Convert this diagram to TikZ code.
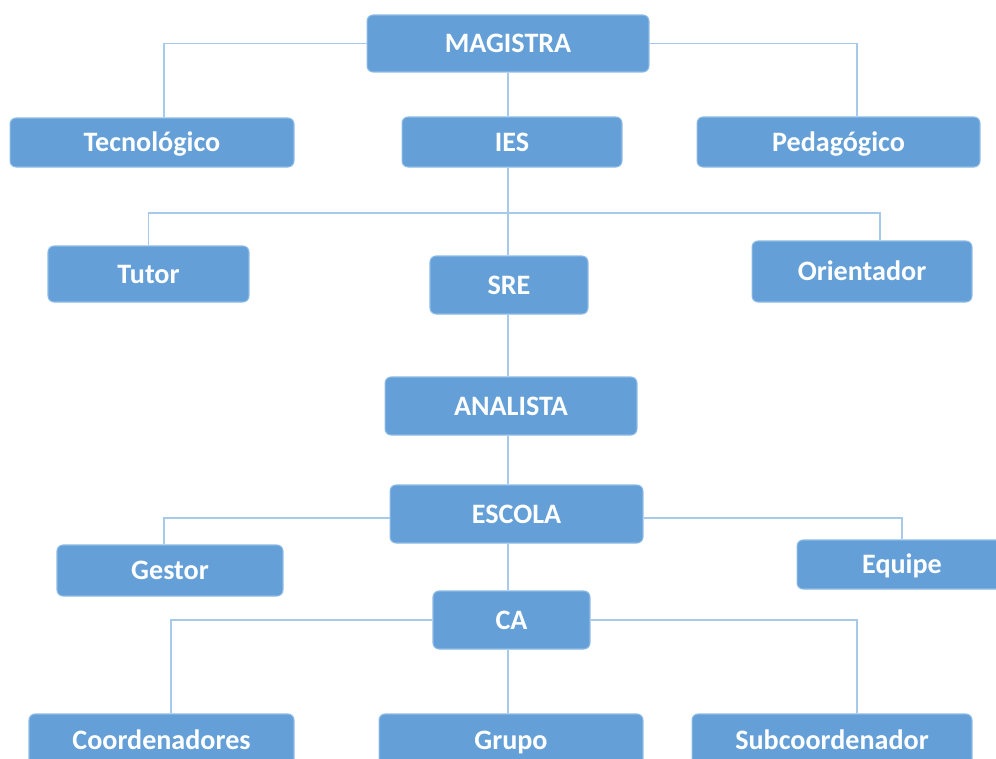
\documentclass[tikz,border=0pt]{standalone}
\usepackage{fontspec}
\setmainfont{Carlito}
\definecolor{boxblue}{HTML}{64A0D7}
\definecolor{boxedge}{HTML}{8DBBE6}
\definecolor{linkblue}{HTML}{A7C9EA}

\begin{document}
\begin{tikzpicture}[x=0.02cm,y=-0.02cm,
        every node/.style={rectangle,rounded corners=0.12cm,fill=boxblue,draw=boxedge,
            line width=0.6pt,text=white,inner sep=0pt,text height=10.3pt,text depth=0pt,
            font=\fontsize{16}{19}\selectfont\bfseries},
        link/.style={draw=linkblue,line width=0.9pt}]
    \useasboundingbox (0,0) rectangle (996,758);
    \clip (0,0) rectangle (996,758);
    % boxes
    \node[minimum width=5.64cm,minimum height=1.14cm] (mag) at (508,43.5) {MAGISTRA};
    \node[minimum width=5.68cm,minimum height=0.98cm] (tec) at (152,142.5) {Tecnológico};
    \node[minimum width=4.4cm,minimum height=1cm] (ies) at (512,142) {IES};
    \node[minimum width=5.66cm,minimum height=1cm] (ped) at (838.5,142) {Pedagógico};
    \node[minimum width=4.02cm,minimum height=1.12cm] (tut) at (148.5,274) {Tutor};
    \node[minimum width=3.16cm,minimum height=1.16cm] (sre) at (509,285) {SRE};
    \node[minimum width=4.4cm,minimum height=1.22cm] (ori) at (862,271.5) {Orientador};
    \node[minimum width=5.04cm,minimum height=1.16cm] (ana) at (511,406) {ANALISTA};
    \node[minimum width=5.06cm,minimum height=1.16cm] (esc) at (516.5,514) {ESCOLA};
    \node[minimum width=4.52cm,minimum height=1.02cm] (ges) at (170,570.5) {Gestor};
    \node[minimum width=4.2cm,minimum height=0.98cm] (equ) at (902,564.5) {Equipe};
    \node[minimum width=3.14cm,minimum height=1.16cm] (ca) at (511.5,620) {CA};
    \node[minimum width=5.3cm,minimum height=1.04cm] (coo) at (161.5,740) {Coordenadores};
    \node[minimum width=5.28cm,minimum height=1.04cm] (grp) at (511,740) {Grupo};
    \node[minimum width=5.6cm,minimum height=1.04cm] (sub) at (832,740) {Subcoordenador};
    % connectors
    \coordinate (spine) at (508,0);
    \coordinate (bus) at (508,213);
    \coordinate (oriTop) at ([xshift=0.36cm]ori.north);
    \draw[link] (mag.west) -| ([xshift=0.24cm]tec.north);
    \draw[link] (mag.east) -| ([xshift=0.37cm]ped.north);
    \draw[link] (mag.south -| spine) -- (ies.north -| spine);
    \draw[link] (ies.south -| spine) -- (sre.north -| spine);
    \draw[link] (tut.north) -- (tut.north |- bus) -- (oriTop |- bus) -- (oriTop);
    \draw[link] (sre.south -| spine) -- (ana.north -| spine);
    \draw[link] (ana.south -| spine) -- (esc.north -| spine);
    \draw[link] (esc.south -| spine) -- (ca.north -| spine);
    \draw[link] (ca.south -| spine) -- (grp.north -| spine);
    \draw[link] ([yshift=-0.08cm]esc.west) -| ([xshift=-0.12cm]ges.north);
    \draw[link] ([yshift=-0.08cm]esc.east) -| (equ.north);
    \draw[link] (ca.west) -| ([xshift=0.19cm]coo.north);
    \draw[link] (ca.east) -| ([xshift=0.5cm]sub.north);
\end{tikzpicture}
\end{document}
